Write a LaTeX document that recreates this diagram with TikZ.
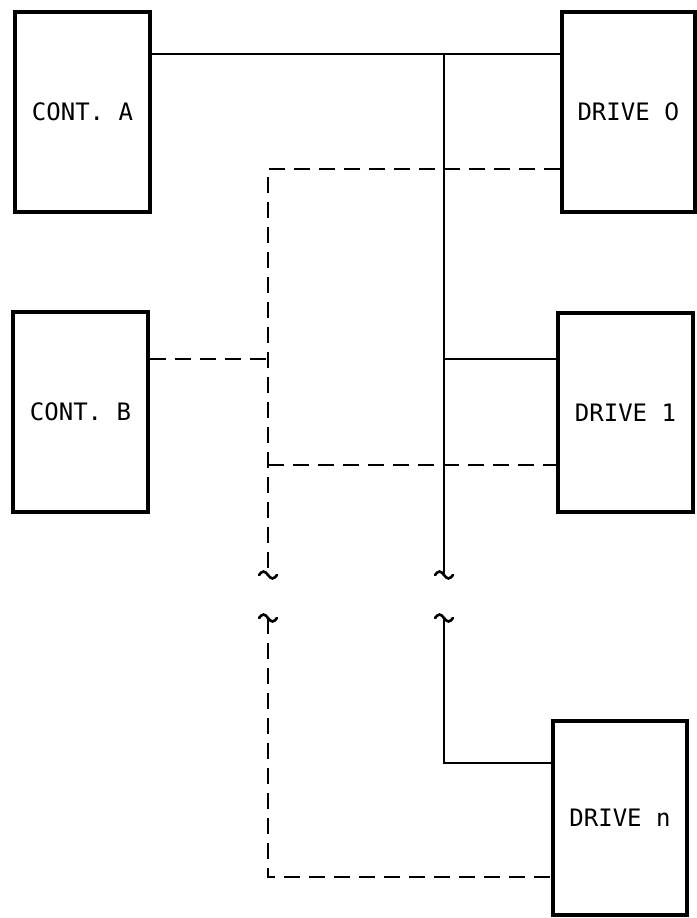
\documentclass[tikz,border=0pt]{standalone}
\usepackage{fontspec}
\newfontfamily\boxfont{DejaVu Sans Mono}
\newfontfamily\zerofont{DejaVu Sans}
\begin{document}
\begin{tikzpicture}[x=1pt,y=-1pt,
  box/.style={draw, line width=3.2pt, inner sep=0pt, minimum width=135pt, minimum height=200pt,
              font=\boxfont\fontsize{24}{24}\selectfont},
  solidln/.style={line width=2.4pt},
  dashln/.style={line width=2.4pt, dash pattern=on 16pt off 9pt},
  brk/.pic={\draw[line width=2.6pt, line cap=round] (-9,0) sin (-4.5,-3.5) cos (0,0) sin (4.5,3.5) cos (9,0);}]
\useasboundingbox (0,0) rectangle (696,918);
% boxes
\node[box] (A)  at (82.5,112) {CONT. A};
\node[box, minimum width=133pt] (D0) at (628.5,112) {DRIVE {\zerofont 0}};
\node[box] (B)  at (80.5,412) {CONT. B};
\node[box, minimum height=199pt] (D1) at (625.5,412.5) {DRIVE 1};
\node[box, minimum width=134pt, minimum height=194pt] (Dn) at (620,818) {DRIVE n};
% solid bus coordinates
\coordinate (sTop) at (444,54);
\coordinate (sMid) at (444,359);
\coordinate (sB1)  at (444,575);
\coordinate (sB2)  at (444,618);
\coordinate (sBot) at (444,763);
% dashed bus coordinates
\coordinate (dTop) at (268,169);
\coordinate (dB)   at (268,359);
\coordinate (d1)   at (268,465);
\coordinate (dB1)  at (268,575);
\coordinate (dB2)  at (268,618);
\coordinate (dBot) at (268,877);
% solid connections
\draw[solidln] (A.east |- sTop) -- (D0.west |- sTop);
\draw[solidln] (sTop) -- (sB1);
\draw[solidln] (sMid) -- (D1.west |- sMid);
\draw[solidln] (sB2) -- (sBot) -- (Dn.west |- sBot);
\pic at (sB1) {brk};
\pic at (sB2) {brk};
% dashed connections
\draw[dashln] (D0.west |- dTop) -- (dTop) -- (dB1);
\draw[dashln] (B.east |- dB) -- (dB);
\draw[dashln] (d1) -- (D1.west |- d1);
\draw[dashln] (dB2) -- (dBot) -- (Dn.west |- dBot);
\pic at (dB1) {brk};
\pic at (dB2) {brk};
\end{tikzpicture}
\end{document}
